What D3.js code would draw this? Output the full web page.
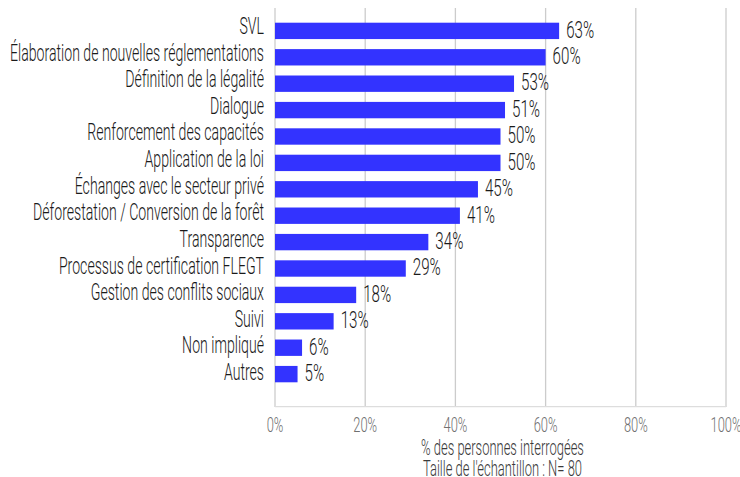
<!DOCTYPE html>
<html><head><meta charset="utf-8">
<script src="https://cdn.jsdelivr.net/npm/d3@7"></script>
<style>
body{margin:0;background:#fff;}
text{font-family:Roboto,"DejaVu Sans",sans-serif;font-weight:300;fill:#1a1a1a;}
</style></head>
<body>
<svg id="c" width="740" height="477"></svg>
<script>
const categories = ["SVL","Élaboration de nouvelles réglementations","Définition de la légalité","Dialogue","Renforcement des capacités","Application de la loi","Échanges avec le secteur privé","Déforestation / Conversion de la forêt","Transparence","Processus de certification FLEGT","Gestion des conflits sociaux","Suivi","Non impliqué","Autres"];
const values = [63,60,53,51,50,50,45,41,34,29,18,13,6,5];
const ticks = [0,20,40,60,80,100];
const xTitle = ["% des personnes interrogées","Taille de l'échantillon : N= 80"];

const svg = d3.select("#c");
const x = d3.scaleLinear().domain([0,100]).range([275,726]);
const y = d3.scaleBand().domain(categories).range([22.7,382.3]).paddingInner(0.38).paddingOuter(0);
// baselines of the category labels
const yLab = d3.scalePoint().domain(categories).range([34,380]);

function factor(sample, size, target){
  const p = svg.append("text").attr("font-size",size).text(sample);
  const w = p.node().getComputedTextLength(); p.remove();
  return target / w;
}
function place(sel, k, fx, fy){
  sel.attr("x",0).attr("y",0)
     .attr("transform",(d,i)=>`translate(${fx(d,i)},${fy(d,i)}) scale(${k},1)`);
}
const kCat = factor(categories[1], 23, 254);
const kVal = factor("63%", 23, 28);
const kTick = factor("100%", 20, 31);
const kTitle = factor(xTitle[0], 22.5, 163);

svg.append("g").selectAll("line").data(ticks).join("line")
  .attr("x1",d=>x(d)).attr("x2",d=>x(d)).attr("y1",8).attr("y2",407)
  .attr("stroke","#cccccc").attr("stroke-width",1.3);
svg.append("line").attr("x1",x(0)).attr("x2",x(100)).attr("y1",406.7).attr("y2",406.7)
  .attr("stroke","#dddddd").attr("stroke-width",1.3);

svg.append("g").selectAll("rect").data(values).join("rect")
  .attr("x",x(0)).attr("y",(d,i)=>y(categories[i]))
  .attr("width",d=>x(d)-x(0)).attr("height",y.bandwidth())
  .attr("fill","#3333ff");

svg.append("g").selectAll("text").data(values).join("text")
  .attr("font-size",23).text(d=>d+"%")
  .call(place,kVal,d=>x(d)+7,(d,i)=>y(categories[i])+y.bandwidth()/2+6.8);

svg.append("g").selectAll("text").data(categories).join("text")
  .attr("text-anchor","end").attr("font-size",23).text(d=>d)
  .call(place,kCat,()=>264,d=>yLab(d));

svg.append("g").selectAll("text").data(ticks).join("text")
  .attr("text-anchor","middle").attr("font-size",20)
  .style("fill","#707070").text(d=>d+"%")
  .call(place,kTick,d=>x(d),()=>431.5);

svg.append("g").selectAll("text").data(xTitle).join("text")
  .attr("text-anchor","middle").attr("font-size",22.5)
  .style("fill","#3a3a3a").text(d=>d)
  .call(place,kTitle,()=>x(50)+2,(d,i)=>455+i*20.5);
</script>
</body></html>
